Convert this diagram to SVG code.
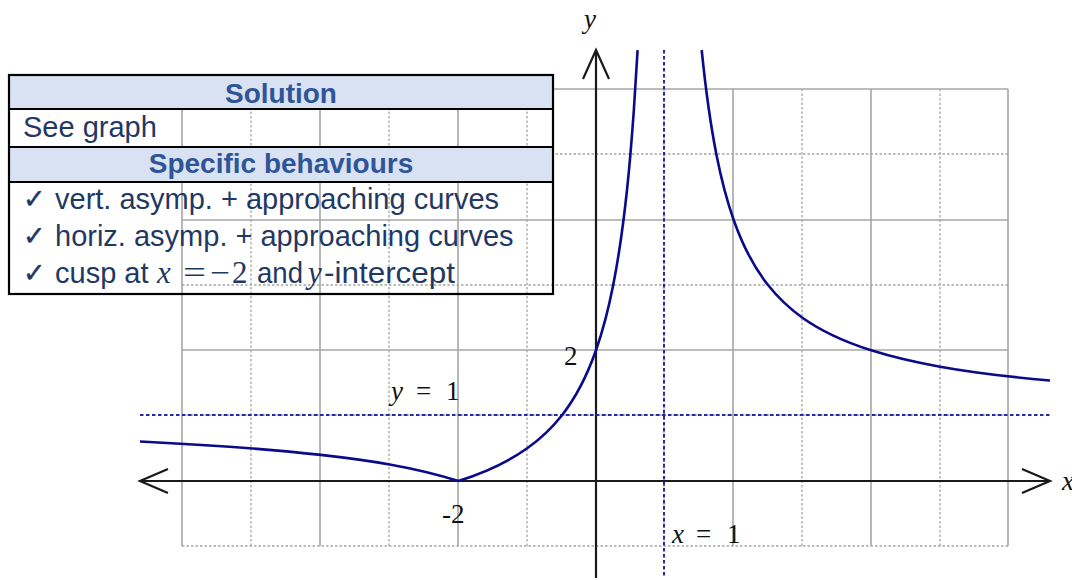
<svg xmlns="http://www.w3.org/2000/svg" width="1072" height="580" viewBox="0 0 1072 580">
<style>
.gs{stroke:#a6a6a6;stroke-width:1.6;fill:none}
.gd{stroke:#a6a6a6;stroke-width:1.3;stroke-dasharray:2.5,2;fill:none}
.ax{stroke:#1a1a1a;stroke-width:2.2;fill:none}
.asy{stroke:#2a2aa0;stroke-width:2;stroke-dasharray:3.5,2.5;fill:none}
.cv{stroke:#0a0a8a;stroke-width:2.6;fill:none;stroke-linejoin:round}
.lbl{font-family:"Liberation Serif",serif;font-size:27px;fill:#111}
.it{font-style:italic}
.tb{font-family:"Liberation Sans",Arial,sans-serif;font-size:29px;fill:#1f3864}
.th{font-family:"Liberation Sans",Arial,sans-serif;font-size:28px;font-weight:bold;fill:#2f5597}
.ck{font-family:"DejaVu Sans",sans-serif;font-size:27px;fill:#1f3864;stroke:#1f3864;stroke-width:0.4}
.mth{font-family:"Liberation Serif",serif;font-size:31px;fill:#1f3864}
</style>
<rect width="1072" height="580" fill="#fff"/>
<g id="grid">
<path class="gd" d="M251,89V546M389,89V546M527,89V546M664,89V546M802,89V546M940,89V546"/>
<path class="gd" d="M182,154H1008M182,285H1008M182,415H1008M182,546H1008"/>
<path class="gs" d="M182,89V546M320,89V546M458,89V546M733,89V546M871,89V546M1008,89V546"/>
<path class="gs" d="M182,89H1008M182,220H1008M182,350H1008"/>
</g>
<g id="connectors">
<path id="x-axis" class="ax" d="M140,481H1050M168,469L140,481L168,493M1022,469L1050,481L1022,493"/>
<path id="y-axis" class="ax" d="M596,50V578M583,79L596,50L609,79"/>
<path id="asymptote-h" class="asy" d="M140,415H1050"/>
<path id="asymptote-v" class="asy" d="M664,50V578"/>
</g>
<g id="curve">
<path class="cv" d="M140,441.5C199.2,444.4 261.6,448.2 320.8,454.9C366.7,460.1 412.5,466.5 458.4,481"/>
<path class="cv" d="M458.4,481C481.3,473.7 504.3,464.6 527.2,448.3C538.7,440.1 550.1,430.2 561.6,415.7C573.1,401.2 584.5,383 596,350.3C601.7,334 607.5,314 613.2,285C617.8,261.8 622.4,233.2 627,190C629.3,168.4 631.5,143.1 633.8,110.8C635.1,93.1 636.3,73.2 637.6,50.2"/>
<path class="cv" d="M701.7,50C706.6,98.7 711.5,129.6 716.4,154.4C722.1,183.4 727.9,203.4 733.6,219.7C745.1,252.4 756.5,270.5 768,285C779.5,299.5 790.9,309.5 802.4,317.7C825.3,334 848.3,343 871.2,350.3C894.1,357.6 917.1,362.6 940,366.7C976.2,373.2 1012.5,377.2 1050,380.5"/>
</g>
<g id="labels">
<text class="lbl it" x="584" y="28" font-size="24">y</text>
<text class="lbl it" x="1062" y="490" font-size="24">x</text>
<text class="lbl" x="564" y="365">2</text>
<text class="lbl" x="442" y="523">-2</text>
<text class="lbl"><tspan class="it" x="391" y="400">y</tspan><tspan x="416" y="400">=</tspan><tspan x="446" y="400">1</tspan></text>
<text class="lbl"><tspan class="it" x="672" y="543">x</tspan><tspan x="696" y="543">=</tspan><tspan x="727" y="543">1</tspan></text>
</g>
<g id="table">
<rect x="9" y="75" width="544" height="34" fill="#d9e2f3"/>
<rect x="9" y="147" width="544" height="35" fill="#d9e2f3"/>
<rect x="9" y="75" width="544" height="219" fill="none" stroke="#000" stroke-width="2.2"/>
<path d="M9,109H553M9,147H553M9,182H553" stroke="#000" stroke-width="2.2"/>
<text class="th" x="281" y="103" text-anchor="middle">Solution</text>
<text class="tb" x="23" y="137">See graph</text>
<text class="th" x="281" y="173" text-anchor="middle">Specific behaviours</text>
<text class="ck" x="23" y="208">✓</text>
<text class="tb" x="55" y="209">vert. asymp. + approaching curves</text>
<text class="ck" x="23" y="245">✓</text>
<text class="tb" x="55" y="246">horiz. asymp. + approaching curves</text>
<text class="ck" x="23" y="282">✓</text>
<text class="tb" x="55" y="283">cusp at</text>
<text class="mth" x="157" y="283" font-style="italic">x</text>
<text class="mth" x="183" y="283" textLength="23" lengthAdjust="spacingAndGlyphs">=</text>
<text class="mth" x="210" y="283" textLength="20" lengthAdjust="spacingAndGlyphs">−</text>
<text class="mth" x="232" y="283">2</text>
<text class="tb" x="257" y="283" textLength="46" lengthAdjust="spacingAndGlyphs">and</text>
<text class="mth" x="308" y="283" font-style="italic">y</text>
<text class="tb" x="324" y="283" textLength="131" lengthAdjust="spacingAndGlyphs">-intercept</text>
</g>
</svg>
